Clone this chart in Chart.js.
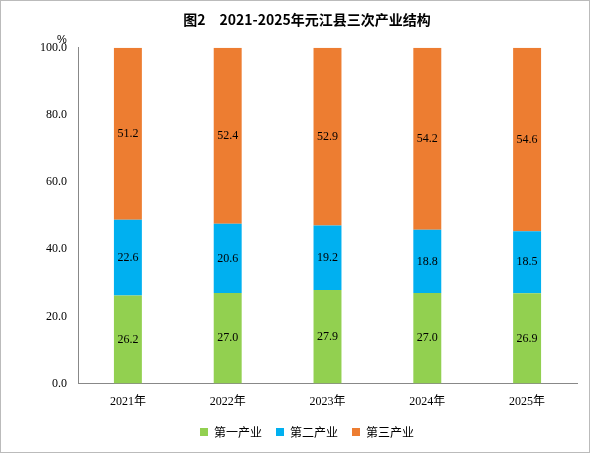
<!DOCTYPE html>
<html><head><meta charset="utf-8">
<script src="https://cdn.jsdelivr.net/npm/chart.js@4/dist/chart.umd.min.js"></script>
<style>
body{margin:0;background:#fff}
#wrap{position:absolute;left:0;top:0;width:588px;height:451px;border:1px solid #bbb}
</style></head>
<body><div id="wrap"><canvas id="c" width="588" height="451"></canvas></div>
<script>
const years = ['2021年','2022年','2023年','2024年','2025年']
const first = [26.2, 27.0, 27.9, 27.0, 26.9]
const second = [22.6, 20.6, 19.2, 18.8, 18.5]
const third = [51.2, 52.4, 52.9, 54.2, 54.6]

const labelsPlugin = {
  id: 'labels',
  afterDatasetsDraw(chart) {
    const ctx = chart.ctx
    ctx.save()
    ctx.font = '12px "Liberation Serif"'
    ctx.fillStyle = '#000'
    ctx.textAlign = 'center'
    ctx.textBaseline = 'middle'
    chart.data.datasets.forEach((ds, i) => {
      chart.getDatasetMeta(i).data.forEach((bar, j) => {
        ctx.fillText(ds.data[j].toFixed(1), bar.x, (bar.y + bar.base) / 2)
      })
    })
    const y = chart.scales.y
    ctx.font = '11px "Liberation Sans"'
    ctx.fillText('%', y.right - 16, y.top - 8)
    ctx.restore()
  }
}

new Chart(document.getElementById('c'), {
  type: 'bar',
  data: {
    labels: years,
    datasets: [
      { label: '第一产业', data: first, backgroundColor: '#92D050' },
      { label: '第二产业', data: second, backgroundColor: '#00B0F0' },
      { label: '第三产业', data: third, backgroundColor: '#ED7D31' }
    ]
  },
  options: {
    responsive: false,
    animation: false,
    layout: { padding: { left: 36, right: 12, top: 0, bottom: 4 } },
    datasets: { bar: { barPercentage: 0.28, categoryPercentage: 1 } },
    scales: {
      x: {
        stacked: true,
        grid: { display: false },
        border: { color: '#888' },
        ticks: { color: '#000', font: { size: 12, family: '"Liberation Serif", "Noto Sans CJK SC"' } }
      },
      y: {
        stacked: true, min: 0, max: 100,
        grid: { display: false },
        border: { color: '#888' },
        ticks: { stepSize: 20, color: '#000', callback: v => v.toFixed(1),
                 font: { size: 12, family: '"Liberation Serif"' } }
      }
    },
    plugins: {
      title: { display: true, text: '图2　2021-2025年元江县三次产业结构',
               font: { size: 14, weight: 'bold', family: '"Noto Sans CJK SC"' }, color: '#000',
               padding: { top: 10, bottom: 20 } },
      legend: { position: 'bottom',
                labels: { boxWidth: 8, boxHeight: 8, padding: 14, color: '#000',
                          font: { size: 12, family: '"Noto Sans CJK SC"' } } },
      tooltip: { enabled: false }
    }
  },
  plugins: [labelsPlugin]
})
</script></body></html>
